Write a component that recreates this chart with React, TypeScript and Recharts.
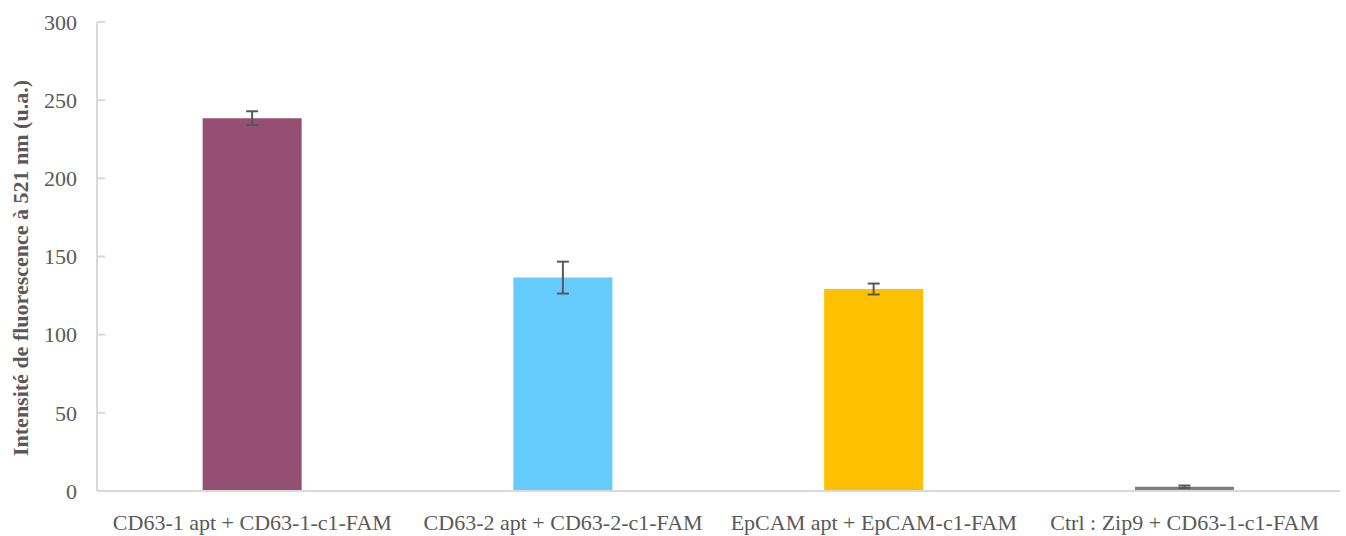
import React from 'react';
import { BarChart, Bar, XAxis, YAxis, Cell, ErrorBar } from 'recharts';

const categories = [
  'CD63-1 apt + CD63-1-c1-FAM',
  'CD63-2 apt + CD63-2-c1-FAM',
  'EpCAM apt + EpCAM-c1-FAM',
  'Ctrl : Zip9 + CD63-1-c1-FAM'
];
const values = [238.5, 136.5, 129.2, 2.7];
const errors = [4.4, 10.2, 3.5, 0.8];
const colors = ['#954F72', '#66CCFF', '#FFC000', '#7F7F7F'];
const yTicks = [0, 50, 100, 150, 200, 250, 300];

const data = categories.map((name, i) => ({ name, value: values[i], err: errors[i] }));

const font = '"Liberation Serif", serif';

const YLabel = () => (
  <text
    x={20}
    y={268}
    transform="rotate(-90 20 268)"
    textAnchor="middle"
    dominantBaseline="central"
    fill="#595959"
    fontFamily={font}
    fontWeight="bold"
    fontSize={22}
  >
    Intensité de fluorescence à 521 nm (u.a.)
  </text>
);

export default function App() {
  return (
    <div style={{ position: 'absolute', left: 0, top: 0, background: '#fff' }}>
      <BarChart
        width={1346}
        height={536}
        data={data}
        margin={{ top: 22, right: 6, bottom: 15, left: 0 }}
        barCategoryGap="34%"
      >
        <XAxis
          dataKey="name"
          height={30}
          axisLine={{ stroke: '#D9D9D9', strokeWidth: 2 }}
          tickLine={false}
          tick={{ fill: '#595959', fontFamily: font, fontSize: 22 }}
          tickMargin={17}
          interval={0}
        />
        <YAxis
          width={97}
          domain={[0, 300]}
          ticks={yTicks}
          axisLine={{ stroke: '#D9D9D9', strokeWidth: 2 }}
          tickLine={{ stroke: '#D9D9D9', strokeWidth: 2 }}
          tickSize={-8}
          tickMargin={28}
          tick={{ fill: '#595959', fontFamily: font, fontSize: 22 }}
          label={<YLabel />}
        />
        <Bar dataKey="value" isAnimationActive={false}>
          {data.map((d, i) => (
            <Cell key={d.name} fill={colors[i]} />
          ))}
          <ErrorBar dataKey="err" width={6} stroke="#595959" strokeWidth={2} />
        </Bar>
      </BarChart>
    </div>
  );
}
